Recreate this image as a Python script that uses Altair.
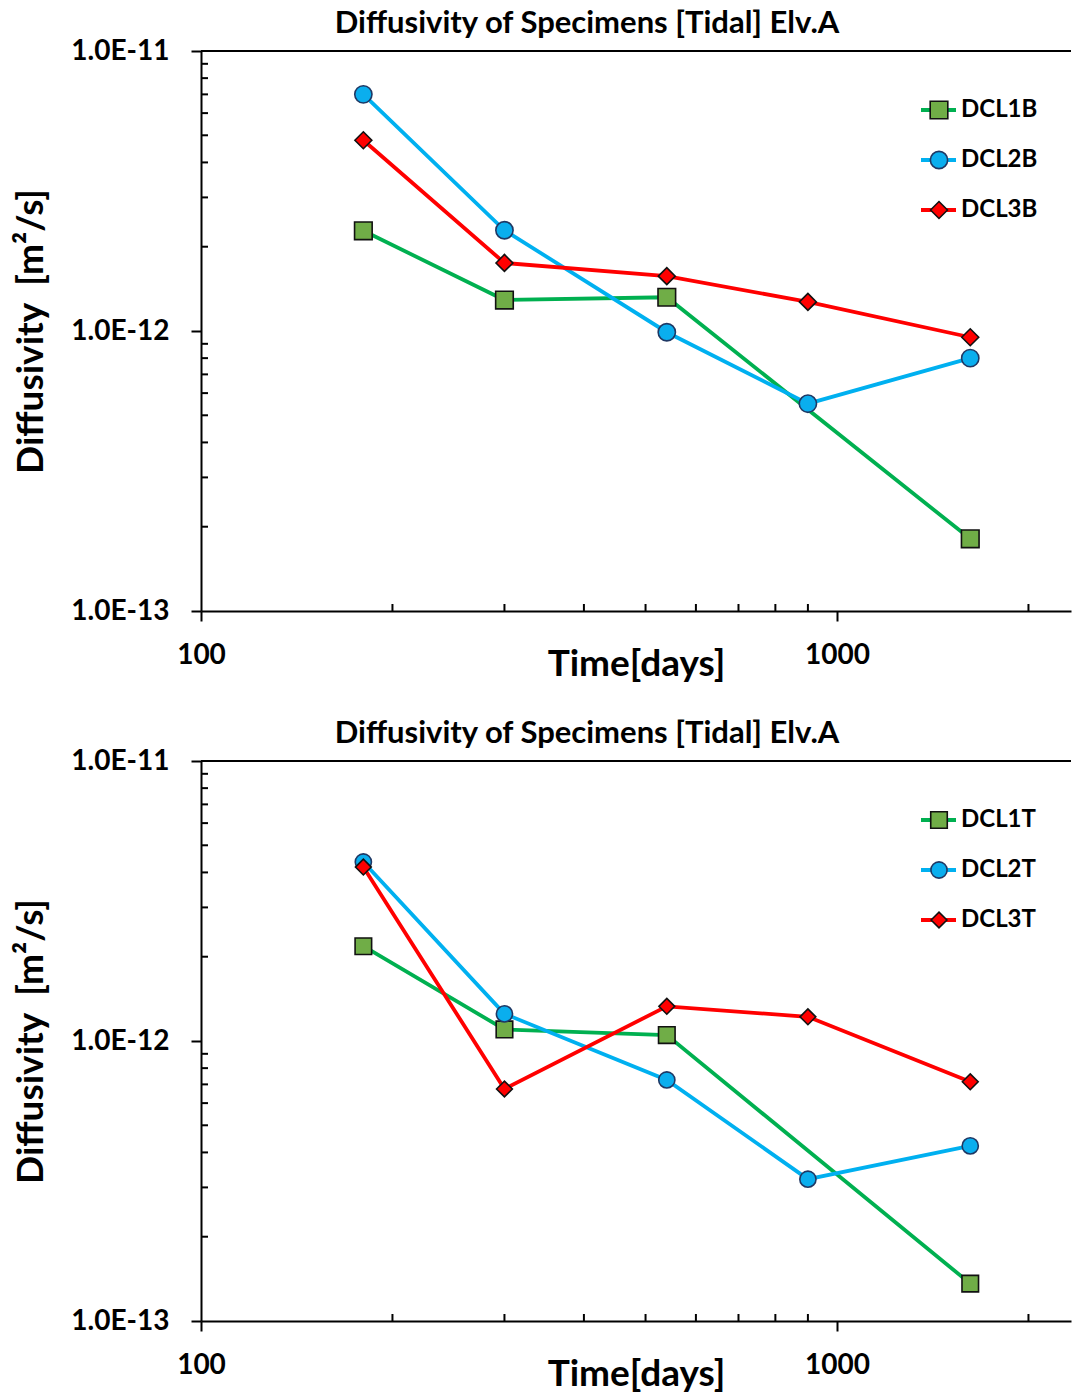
import altair as alt
import pandas as pd

FONT = "Lato"
TITLE = "Diffusivity of Specimens [Tidal] Elv.A"

# x values (days) of the measurements
DAYS = [180, 300, 540, 900, 1620]
DAYS_GREEN = [180, 300, 540, 1620]

# upper panel series
SERIES_B = ["DCL1B", "DCL2B", "DCL3B"]
DCL1B = [2.28e-12, 1.29e-12, 1.32e-12, 1.81e-13]
DCL2B = [7.0e-12, 2.29e-12, 0.99e-12, 5.5e-13, 8.0e-13]
DCL3B = [4.8e-12, 1.75e-12, 1.57e-12, 1.27e-12, 0.95e-12]

# lower panel series
SERIES_T = ["DCL1T", "DCL2T", "DCL3T"]
DCL1T = [2.18e-12, 1.10e-12, 1.05e-12, 1.36e-13]
DCL2T = [4.36e-12, 1.25e-12, 7.26e-13, 3.21e-13, 4.22e-13]
DCL3T = [4.18e-12, 6.74e-13, 1.33e-12, 1.22e-12, 7.15e-13]

# axes
X_DOMAIN = [100, 2333]
Y_DOMAIN = [1e-13, 1e-11]
X_MAJOR = [100, 1000]
X_MINOR = [200, 300, 400, 500, 600, 700, 800, 900, 2000]
Y_MAJOR = [1e-13, 1e-12, 1e-11]
Y_MINOR = [2e-13, 3e-13, 4e-13, 5e-13, 6e-13, 7e-13, 8e-13, 9e-13,
           2e-12, 3e-12, 4e-12, 5e-12, 6e-12, 7e-12, 8e-12, 9e-12]

# styles
LINE_COLORS = ["#00B050", "#00B0F0", "#FF0000"]
FILL_COLORS = ["#70AD47", "#0AAEEE", "#FF0000"]
EDGE_COLORS = ["#111111", "#1F3864", "#111111"]
SHAPES = ["square", "circle", "diamond"]
SIZES = [310, 250, 370]

W, H = 870, 560

X_AXIS = alt.Axis(values=X_MAJOR, format="d", grid=False,
                  labelFont=FONT, labelFontSize=28, labelFontWeight="bold", labelColor="black",
                  labelPadding=20, labelFlush=False, labelOverlap=False,
                  tickSize=10, tickWidth=2, tickColor="black",
                  domainColor="black", domainWidth=2,
                  title="Time[days]", titleFont=FONT, titleFontSize=37, titleFontWeight="bold",
                  titleColor="black", titleY=53, titleBaseline="middle")
Y_AXIS = alt.Axis(values=Y_MAJOR, labelExpr="upper(format(datum.value, '.1e'))", grid=False,
                  labelFont=FONT, labelFontSize=28, labelFontWeight="bold", labelColor="black",
                  labelPadding=22, labelFlush=False, labelOverlap=False,
                  tickSize=10, tickWidth=2, tickColor="black",
                  domainColor="black", domainWidth=2,
                  title="Diffusivity\u00a0\u00a0[m²/s]", titleFont=FONT, titleFontSize=37,
                  titleFontWeight="bold", titleColor="black",
                  titleX=-170, titleY=H / 2, titleAngle=270, titleAlign="center",
                  titleBaseline="middle")


def X(field):
    return alt.X(field, type="quantitative",
                 scale=alt.Scale(type="log", domain=X_DOMAIN, nice=False), axis=X_AXIS)


def Y(field):
    return alt.Y(field, type="quantitative",
                 scale=alt.Scale(type="log", domain=Y_DOMAIN, nice=False), axis=Y_AXIS)


def panel(names, xs_list, ys_list):
    rows = []
    for name, xs, ys in zip(names, xs_list, ys_list):
        for x, y in zip(xs, ys):
            rows.append({"series": name, "days": x, "D": y})
    df = pd.DataFrame(rows)

    color = alt.Color("series:N", scale=alt.Scale(domain=names, range=LINE_COLORS), legend=None)
    fill = alt.Fill("series:N", scale=alt.Scale(domain=names, range=FILL_COLORS), legend=None)
    stroke = alt.Stroke("series:N", scale=alt.Scale(domain=names, range=EDGE_COLORS), legend=None)
    shape = alt.Shape("series:N", scale=alt.Scale(domain=names, range=SHAPES), legend=None)
    size = alt.Size("series:N", scale=alt.Scale(domain=names, range=SIZES), legend=None)

    lines = alt.Chart(df).mark_line(strokeWidth=3.8).encode(
        x=X("days"), y=Y("D"), color=color, order="days:Q")
    pts = alt.Chart(df).mark_point(filled=True, opacity=1, strokeWidth=1.6).encode(
        x=X("days"), y=Y("D"), fill=fill, stroke=stroke, shape=shape, size=size)

    xminor = alt.Chart(pd.DataFrame({"days": X_MINOR})).mark_rule(
        color="black", strokeWidth=2).encode(x=X("days"), y=alt.value(H - 7), y2=alt.value(H))
    yminor = alt.Chart(pd.DataFrame({"D": Y_MINOR})).mark_rule(
        color="black", strokeWidth=2).encode(y=Y("D"), x=alt.value(0), x2=alt.value(7))
    top = alt.Chart(pd.DataFrame({"D": [Y_DOMAIN[1]]})).mark_rule(
        color="black", strokeWidth=2).encode(y=Y("D"))

    main = alt.layer(xminor, yminor, top, lines, pts)

    ldf = pd.DataFrame({"series": names})
    ly = alt.Y("series:N", scale=alt.Scale(type="point", domain=names, range=[59, 159], padding=0),
               axis=None)
    lrule = alt.Chart(ldf).mark_rule(strokeWidth=3.8).encode(
        x=alt.value(720), x2=alt.value(755), y=ly, color=color)
    lpts = alt.Chart(ldf).mark_point(filled=True, opacity=1, strokeWidth=1.6).encode(
        x=alt.value(738), y=ly, fill=fill, stroke=stroke, shape=shape, size=size)
    ltext = alt.Chart(ldf).mark_text(align="left", baseline="middle", font=FONT, fontSize=24,
                                     fontWeight="bold", color="black").encode(
        x=alt.value(760), y=ly, text="series:N")
    legend = alt.layer(lrule, lpts, ltext)

    return alt.layer(main, legend).resolve_scale(y="independent").properties(
        width=W, height=H,
        title=alt.TitleParams(TITLE, font=FONT, fontSize=31, fontWeight="bold", color="black",
                              anchor="middle", frame="group", dx=-49, offset=-3))


top_panel = panel(SERIES_B, [DAYS_GREEN, DAYS, DAYS], [DCL1B, DCL2B, DCL3B])
bottom_panel = panel(SERIES_T, [DAYS_GREEN, DAYS, DAYS], [DCL1T, DCL2T, DCL3T])

chart = alt.vconcat(top_panel, bottom_panel, spacing=36).properties(
    padding={"left": 4, "top": 0, "right": 0, "bottom": 0}
).configure_view(stroke=None)

chart.save("out.html", embed_options={"renderer": "svg", "actions": False})
